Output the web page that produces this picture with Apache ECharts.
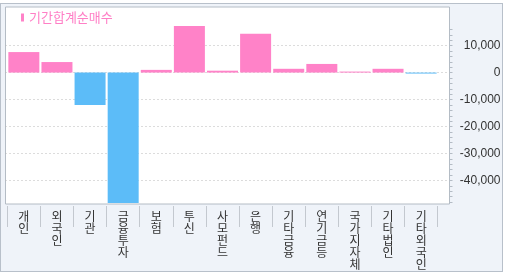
<!DOCTYPE html>
<html>
<head>
<meta charset="utf-8">
<script src="https://cdn.jsdelivr.net/npm/echarts@6/dist/echarts.min.js"></script>
<style>
html,body{margin:0;padding:0;background:#ffffff;}
#wrap{position:relative;width:505px;height:274px;}
#frame{position:absolute;left:0;top:3px;width:501px;height:267px;border:1px solid #b8c0ca;background:#eff3f9;}
#chart{position:absolute;left:0;top:0;width:505px;height:274px;}
</style>
</head>
<body>
<div id="wrap"><div id="frame"></div><div id="chart"></div></div>
<script>
const categories = ['개인','외국인','기관','금융투자','보험','투신','사모펀드','은행','기타금융','연기금등','국가지자체','기타법인','기타외국인'];
const netBuy = [7600, 3900, -12000, -48300, 1000, 17300, 700, 14400, 1400, 3200, 350, 1400, -350];
const seriesName = '기간합계순매수';
const majorTicks = [-40000, -30000, -20000, -10000, 0, 10000];
const minorTicks = [-48000,-46000,-44000,-42000,-40000,-38000,-36000,-34000,-32000,-30000,-28000,-26000,-24000,-22000,-20000,-18000,-16000,-14000,-12000,-10000,-8000,-6000,-4000,-2000,0,2000,4000,6000,8000,10000,12000,14000,16000];
const yMin = -48700, yMax = 24300;

const PINK = '#ff82c8', BLUE = '#5cbcf8';
const fmt = v => (v < 0 ? '-' : '') + Math.abs(v).toString().replace(/\B(?=(\d{3})+(?!\d))/g, ',');

const chart = echarts.init(document.getElementById('chart'), null, {renderer: 'canvas'});
chart.setOption({
  animation: false,
  backgroundColor: 'transparent',
  legend: {
    left: 21, top: 11, icon: 'rect', itemWidth: 3, itemHeight: 8, padding: 0,
    textStyle: {color: '#ff7fc6', fontSize: 13, fontFamily: 'Noto Sans CJK KR'},
    data: [seriesName], selectedMode: false
  },
  grid: [
    {left: 7.3, right: 505 - 437.7, top: 7, bottom: 274 - 204, containLabel: false},
    {left: 5.5, right: 505 - 449.5, top: 7, bottom: 274 - 204, show: true, backgroundColor: '#ffffff', borderColor: '#b4bcc5', borderWidth: 1, z: -1}
  ],
  xAxis: [
    {type: 'category', gridIndex: 0, data: categories, offset: 2, position: 'bottom',
     axisLine: {show: false, onZero: false},
     axisTick: {show: true, interval: 0, length: 21, lineStyle: {color: '#c3c8cf'}},
     axisLabel: {interval: 0, margin: 4, color: '#333333', fontSize: 12, lineHeight: 12,
       fontFamily: 'Noto Sans CJK KR', verticalAlign: 'top',
       formatter: v => v.split('').join('\n')}},
    {type: 'value', gridIndex: 1, show: false, min: 0, max: 1}
  ],
  yAxis: [
    {type: 'value', gridIndex: 0, min: yMin, max: yMax, show: false, splitLine: {show: false}},
    {type: 'value', gridIndex: 1, min: yMin, max: yMax, position: 'right',
     axisLine: {show: false},
     axisTick: {show: false, customValues: majorTicks},
     axisLabel: {customValues: majorTicks, align: 'right', margin: 51, color: '#333333', fontSize: 12,
       fontFamily: 'Liberation Sans', formatter: v => fmt(v)},
     splitLine: {show: true, lineStyle: {color: '#b8b8b8', type: [1, 3], width: 1}}},
    {type: 'value', gridIndex: 1, min: yMin, max: yMax, position: 'right',
     axisLine: {show: false}, axisLabel: {show: false}, splitLine: {show: false},
     axisTick: {show: true, inside: false, length: 3, customValues: minorTicks, lineStyle: {color: '#b4bcc5'}}}
  ],
  series: [{
    name: seriesName, type: 'bar', xAxisIndex: 0, yAxisIndex: 0, barWidth: 31, barMinHeight: 1,
    itemStyle: {color: PINK},
    data: netBuy.map(v => ({value: v, itemStyle: {color: v < 0 ? BLUE : PINK}}))
  }]
});
</script>
</body>
</html>
